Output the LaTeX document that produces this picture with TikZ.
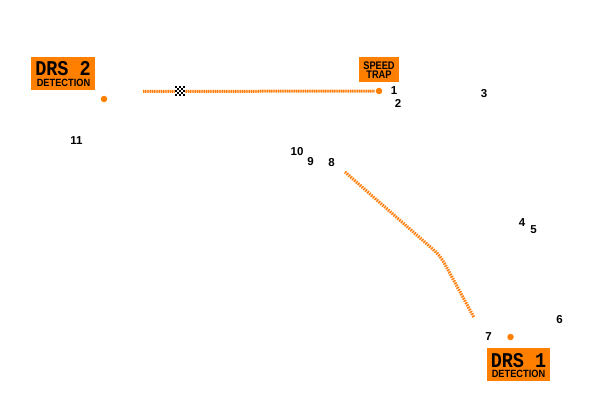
\documentclass[tikz,border=0pt]{standalone}
\usepackage{fontspec}
\setmainfont{Liberation Sans}
\newfontfamily\slabfont{Liberation Mono}
\definecolor{drsorange}{RGB}{255,128,0}
\definecolor{lineorange}{RGB}{255,125,10}
\tikzset{
  turn/.style={font=\fontsize{11.5}{11.5}\selectfont\bfseries, text=black, inner sep=0pt},
  tag/.style={fill=drsorange, draw=none, inner sep=0pt, align=center, text=black},
  zone/.style={draw=lineorange, line width=3pt, dash pattern=on 1pt off 0.8pt},
  zonediag/.style={draw=lineorange, line width=3.2pt, dash pattern=on 1.3pt off 1.2pt},
  zoneglow/.style={draw=lineorange!45, line width=2pt},
  spot/.style={circle, fill=drsorange, draw=none, minimum size=6.5pt, inner sep=0pt},
  bigdrs/.style={font=\slabfont\fontsize{21}{21}\selectfont\bfseries, inner sep=0pt, text=black, xscale=.88},
  smalldrs/.style={font=\fontsize{10.5}{10.5}\selectfont\bfseries, inner sep=0pt, text=black, xscale=.88},
  traptext/.style={font=\fontsize{11}{9.6}\selectfont\bfseries, inner sep=0pt, text=black, align=center, xscale=.84},
}
\begin{document}
\begin{tikzpicture}[x=1pt,y=-1pt]
\useasboundingbox (0,0) rectangle (600,420);
% detection and trap tags
\node[tag, minimum width=64pt, minimum height=33pt] (drstwo) at (63,73.5) {};
\node[bigdrs, anchor=base] (drstwotext) at (63,76) {DRS 2};
\node[smalldrs, anchor=base] (drstwosub) at (63.5,86.2) {DETECTION};
\node[tag, minimum width=40pt, minimum height=25pt] (trap) at (379,69.5) {};
\node[traptext] (traptext) at (379,70) {SPEED\\TRAP};
\node[tag, minimum width=63pt, minimum height=33pt] (drsone) at (518.5,364.5) {};
\node[bigdrs, anchor=base] (drsonetext) at (518.5,367) {DRS 1};
\node[smalldrs, anchor=base] (drsonesub) at (518.5,377.2) {DETECTION};
% spots
\node[spot] (spottwo) at (104,99) {};
\node[spot] (spottrap) at (379,91) {};
\node[spot] (spotone) at (510.5,337) {};
% zones
\coordinate (azstart) at (143,91.5);
\coordinate (azend) at (375,91);
\coordinate (bzstart) at (345,172);
\coordinate (bzmid) at (430,246.7);
\coordinate (bzbend) at (447,268);
\coordinate (bzend) at (474,317.5);
\draw[zoneglow] (azstart) -- (azend);
\draw[zone] (azstart) -- (azend);
\draw[zoneglow, draw=lineorange!30, line width=1.5pt] (bzstart) -- (bzmid) .. controls (439,254.6) and (441,257) .. (bzbend) -- (bzend);
\draw[zonediag] (bzstart) -- (bzmid) .. controls (439,254.6) and (441,257) .. (bzbend) -- (bzend);
% start line chequers
\begin{scope}[shift={(180,91.5)}]
\foreach \i in {-2,...,2}{\foreach \j in {-2,...,2}{
  \pgfmathtruncatemacro{\k}{mod(\i+\j+6,2)}
  \ifnum\k=0 \fill[black] (\i*2-1,\j*2-1) rectangle ++(2,2);\else\fill[white] (\i*2-1,\j*2-1) rectangle ++(2,2);\fi
}}
\end{scope}
% turn numbers
\node[turn] (t1) at (394,91) {1};
\node[turn] (t2) at (398,103) {2};
\node[turn] (t3) at (484,94) {3};
\node[turn] (t4) at (522,223) {4};
\node[turn] (t5) at (533.5,229.5) {5};
\node[turn] (t6) at (559.5,320) {6};
\node[turn] (t7) at (488.5,337) {7};
\node[turn] (t8) at (331.5,162.5) {8};
\node[turn] (t9) at (310.5,162) {9};
\node[turn] (t10) at (297,151.5) {10};
\node[turn] (t11) at (76.5,140.5) {11};
\end{tikzpicture}
\end{document}
